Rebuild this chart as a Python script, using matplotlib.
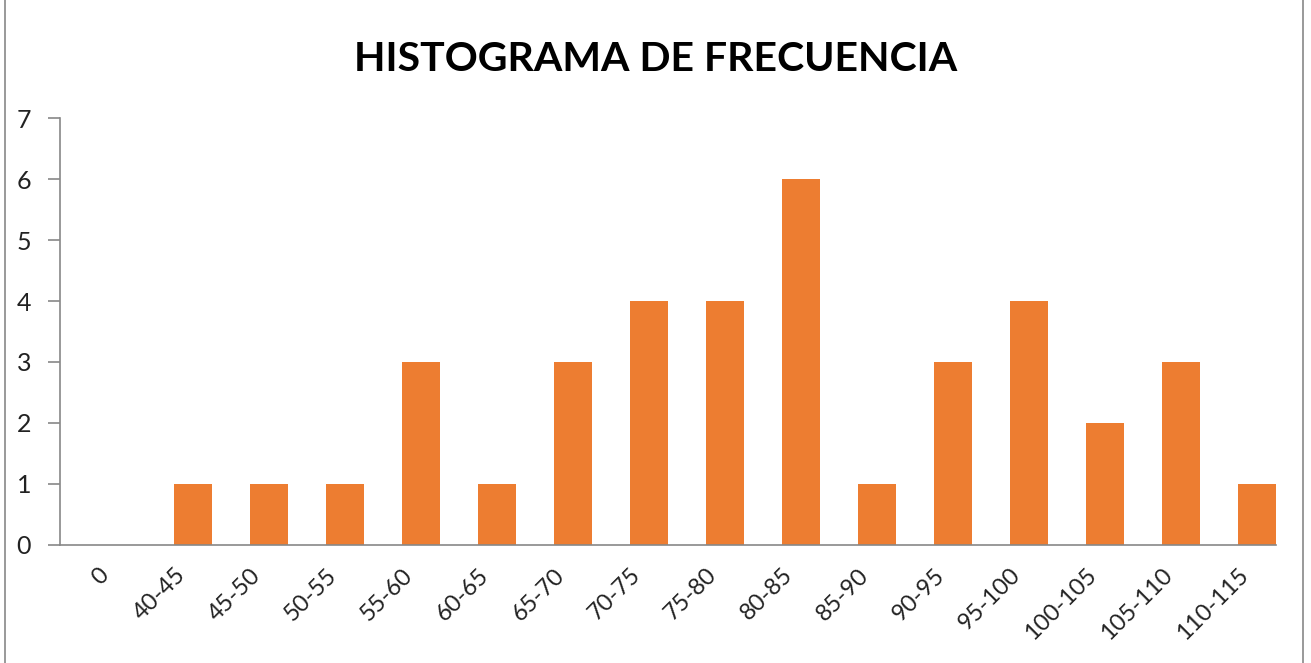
import matplotlib.pyplot as plt
from matplotlib.patches import Rectangle

categories = ["0", "40-45", "45-50", "50-55", "55-60", "60-65", "65-70", "70-75",
              "75-80", "80-85", "85-90", "90-95", "95-100", "100-105", "105-110", "110-115"]
frecuencia = [0, 1, 1, 1, 3, 1, 3, 4, 4, 6, 1, 3, 4, 2, 3, 1]

plt.rcParams['font.family'] = ['Lato', 'DejaVu Sans']

fig = plt.figure(figsize=(13.11, 6.63), dpi=100)
ax = fig.add_axes([0.046, 0.178, 0.927, 0.644])

x = range(len(categories))
# columns sit in the right half of each category slot, like the original
ax.bar(x, frecuencia, width=0.5, align="edge", color="#ED7D31")

ax.set_xlim(-0.5, len(categories) - 0.5)
ax.set_ylim(0, 7)
ax.set_yticks(range(8))
ax.set_xticks(list(x))
ax.set_xticklabels(categories, rotation=45, ha="right", va="top",
                   rotation_mode="anchor", fontsize=17, color="#222222")
ax.tick_params(axis="x", length=0, pad=14)
ax.tick_params(axis="y", length=9, width=1.2, color="#888888", pad=12,
               labelsize=18, labelcolor="#222222")

for side in ["top", "right"]:
    ax.spines[side].set_visible(False)
ax.spines["left"].set_color("#888888")
ax.spines["bottom"].set_color("#888888")
ax.spines["left"].set_linewidth(1.2)
ax.spines["bottom"].set_linewidth(1.2)

fig.text(0.5, 0.91, "HISTOGRAMA DE FRECUENCIA", ha="center", va="center",
         fontsize=29.5, fontweight="bold")

fig.patches.append(Rectangle((0.004, -0.01), 0.99, 1.02, transform=fig.transFigure,
                             fill=False, edgecolor="#888888", linewidth=1.2))

fig.savefig("out.png", dpi=100)
